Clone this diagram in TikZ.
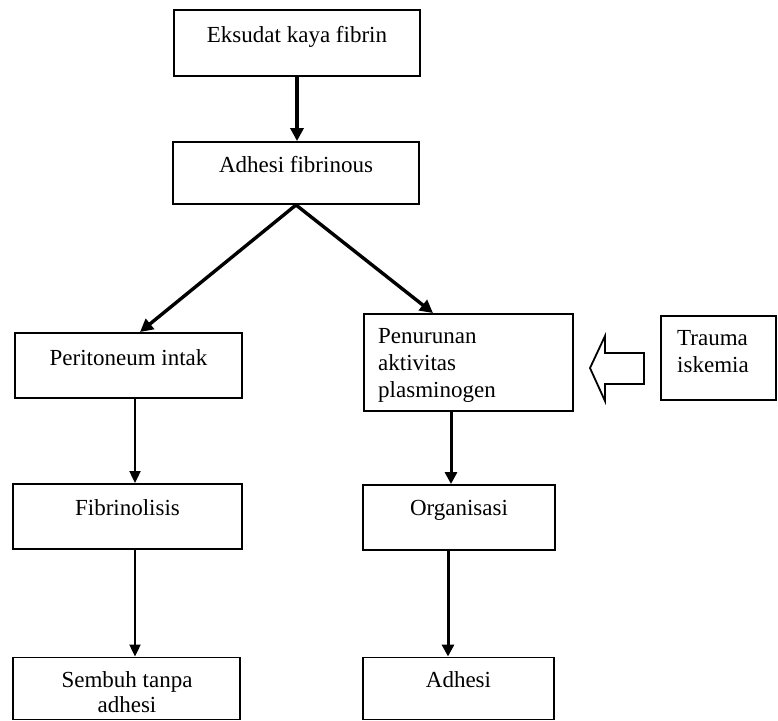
\documentclass[tikz,border=0pt]{standalone}
\usepackage{fontspec}
\setmainfont{Liberation Serif}
\usetikzlibrary{arrows.meta}
\begin{document}
\begin{tikzpicture}[x=1pt,y=-1pt,
  box/.style={draw, line width=1.9pt, inner sep=0pt, fill=none},
  txt/.style={font=\fontsize{23}{27}\selectfont, inner sep=0pt, anchor=base},
  ltxt/.style={font=\fontsize{23}{27}\selectfont, inner sep=0pt, anchor=base west},
  thickarr/.style={line width=3.4pt, -{Triangle[length=13pt,width=13pt]}},
  thinarr/.style={line width=2.1pt, -{Triangle[length=12pt,width=11pt]}},
  midarr/.style={line width=3pt, -{Triangle[length=12pt,width=12pt]}},
  hollow/.style={draw, line width=1.8pt, line join=miter}
]
\useasboundingbox (0,0) rectangle (778,720);
\fill[white] (0,0) rectangle (778,720);

% boxes
\node[box, minimum width=246pt, minimum height=66pt] (b1) at (297,43) {};
\node[txt] (t1) at (297,42) {Eksudat kaya fibrin};

\node[box, minimum width=246pt, minimum height=62pt] (b2) at (296,173) {};
\node[txt] (t2) at (296,172) {Adhesi fibrinous};

\node[box, minimum width=227pt, minimum height=65pt] (per) at (128.5,365.5) {};
\node[txt] (tper) at (128.5,365) {Peritoneum intak};

\node[box, minimum width=209pt, minimum height=97pt] (pen) at (468.5,362.5) {};
\node[ltxt] (tpen1) at (378,343) {Penurunan};
\node[ltxt] (tpen2) at (378,370) {aktivitas};
\node[ltxt] (tpen3) at (378,397) {plasminogen};

\node[box, minimum width=115pt, minimum height=84pt] (tr) at (718.5,358) {};
\node[ltxt] (ttr1) at (677,345) {Trauma};
\node[ltxt] (ttr2) at (677,372) {iskemia};

\node[box, minimum width=229pt, minimum height=65pt] (fib) at (127.5,516.5) {};
\node[txt] (tfib) at (127.5,515) {Fibrinolisis};

\node[box, minimum width=192pt, minimum height=65pt] (org) at (459,517.5) {};
\node[txt] (torg) at (459,515) {Organisasi};

\node[box, minimum width=227pt, minimum height=62pt] (sem) at (126.5,688.5) {};
\node[txt] (tsem1) at (127,687) {Sembuh tanpa};
\node[txt] (tsem2) at (127,712) {adhesi};

\node[box, minimum width=191pt, minimum height=62pt] (adh) at (458.5,688.5) {};
\node[txt] (tadh) at (458.5,687) {Adhesi};

% connectors
\draw[thickarr] (b1.south) -- (b1.south |- b2.north);
\draw[thickarr] (b2.south) -- ([xshift=11.5pt]per.north);
\draw[thickarr] (b2.south) -- ([xshift=-35.5pt]pen.north);
\draw[thinarr] ([xshift=6.5pt]per.south) coordinate (a1) -- (a1 |- fib.north);
\draw[thinarr] ([xshift=7.5pt]fib.south) coordinate (a2) -- (a2 |- sem.north);
\draw[midarr] ([xshift=-17.5pt]pen.south) coordinate (a3) -- (a3 |- org.north);
\draw[midarr] ([xshift=-11pt]org.south) coordinate (a4) -- (a4 |- adh.north);

% hollow block arrow from Trauma to Penurunan
\draw[hollow] (590,368) -- (605,336) -- (605,353) -- (644,353) -- (644,384)
  -- (605,384) -- (605,401) -- cycle;
\end{tikzpicture}
\end{document}
